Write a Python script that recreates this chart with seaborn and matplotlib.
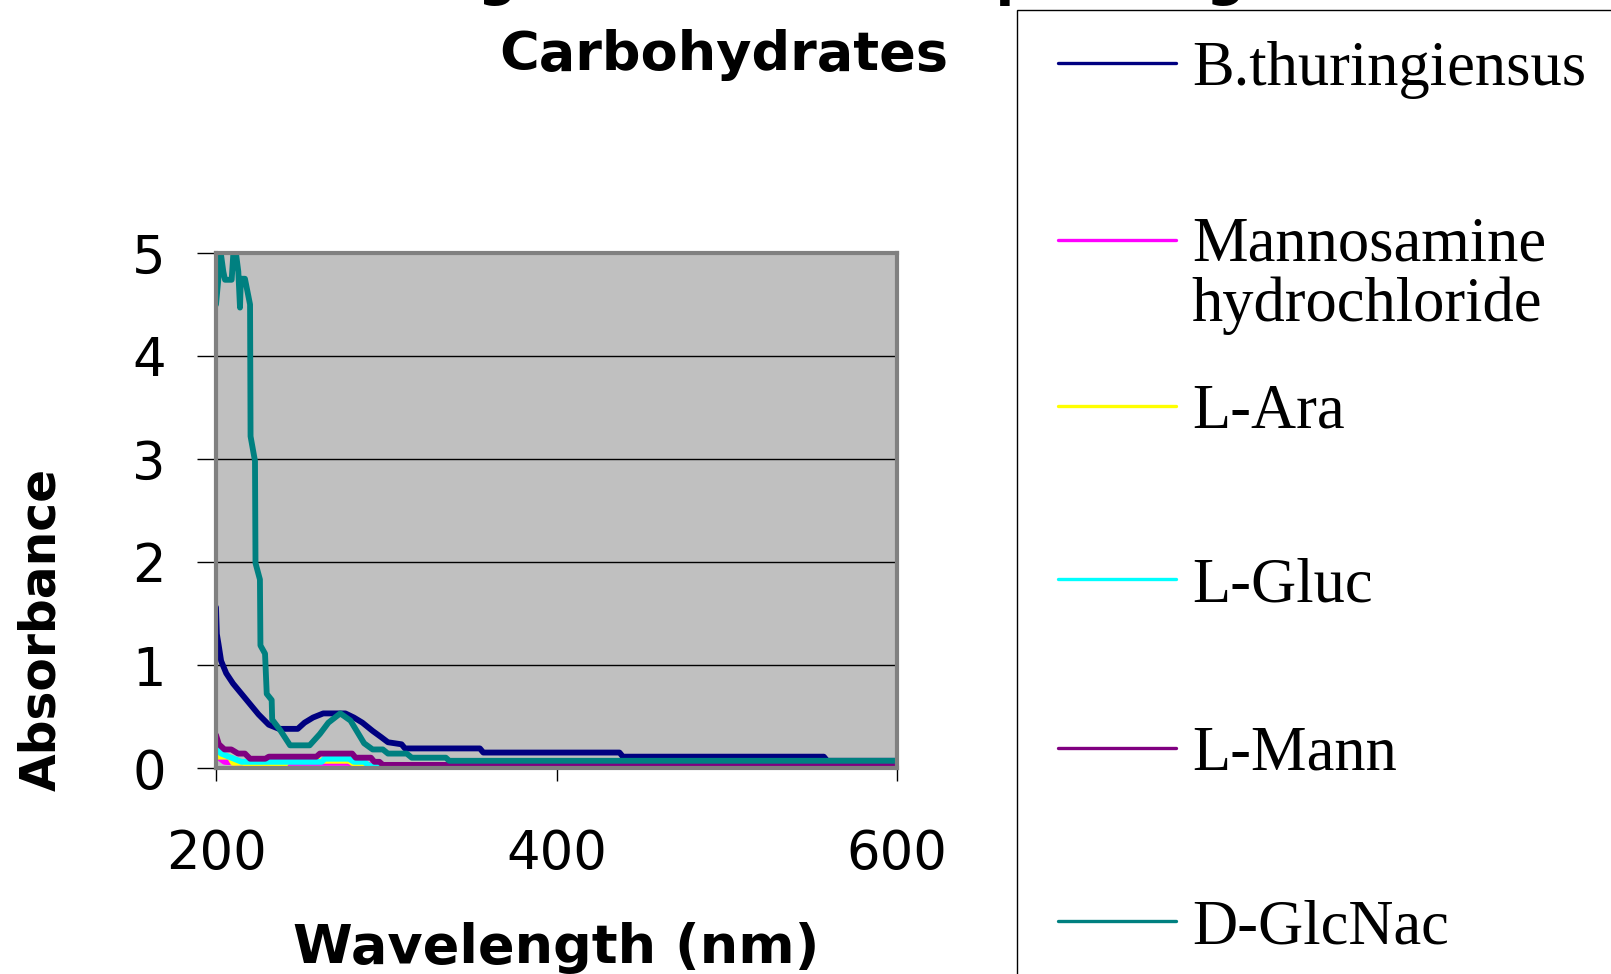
import numpy as np
import pandas as pd
import matplotlib
matplotlib.use("Agg")
import matplotlib.pyplot as plt
import seaborn as sns
from matplotlib.lines import Line2D
from matplotlib.patches import Rectangle
from matplotlib.legend_handler import HandlerLine2D

# ---------------- data ----------------
series_names = ["B.thuringiensus", "Mannosamine\nhydrochloride", "L-Ara", "L-Gluc", "L-Mann", "D-GlcNac"]
series_colors = ["#000080", "#FF00FF", "#FFFF00", "#00FFFF", "#800080", "#008080"]

bt_wl = [200, 200.5, 201.5, 203, 206, 210, 216, 220, 225, 231, 237, 248, 252, 257, 263, 276, 281, 286,
         292, 297, 301, 309, 311, 355, 357, 437, 439, 557, 559, 600]
bt_abs = [1.56, 1.30, 1.20, 1.04, 0.92, 0.82, 0.70, 0.62, 0.52, 0.42, 0.38, 0.38, 0.44, 0.49, 0.53, 0.53,
          0.49, 0.44, 0.36, 0.30, 0.25, 0.23, 0.19, 0.19, 0.15, 0.15, 0.11, 0.11, 0.07, 0.07]

man_wl = [200, 205, 222, 224, 240, 242, 278, 281, 290, 292, 600]
man_abs = [0.12, 0.06, 0.04, 0.01, 0.01, 0.05, 0.05, 0.03, 0.03, 0.01, 0.01]

ara_wl = [200, 201, 208, 210, 216, 220, 240, 242, 278, 281, 290, 600]
ara_abs = [0.16, 0.11, 0.11, 0.05, 0.05, 0.02, 0.02, 0.07, 0.07, 0.04, 0.02, 0.02]

gluc_wl = [200, 203, 209, 215, 229, 262, 264, 278, 281, 287, 290, 600]
gluc_abs = [0.19, 0.14, 0.10, 0.06, 0.06, 0.06, 0.09, 0.09, 0.06, 0.06, 0.02, 0.02]

mann_wl = [200, 201.7, 205, 209, 213, 217, 220, 229, 231, 259, 261, 280, 282, 291, 293, 296, 298, 600]
mann_abs = [0.32, 0.23, 0.18, 0.18, 0.14, 0.14, 0.09, 0.09, 0.11, 0.11, 0.14, 0.14, 0.10, 0.10, 0.06,
            0.06, 0.03, 0.03]

glc_wl = [200, 202.8, 204.3, 205.3, 209.2, 210.2, 211.7, 213.1, 214.1, 214.6, 217, 220, 220.3, 222.9,
          223.2, 225.8, 226.1, 228.8, 229.8, 232.7, 233, 237.6, 243.5, 255, 261, 266, 273, 279, 283, 287,
          292, 298, 301, 312, 315, 335, 337, 600]
glc_abs = [4.50, 5.00, 4.82, 4.74, 4.74, 5.00, 5.00, 4.82, 4.47, 4.75, 4.75, 4.50, 3.22, 2.98, 1.99, 1.83,
           1.19, 1.11, 0.72, 0.66, 0.47, 0.37, 0.22, 0.22, 0.33, 0.44, 0.53, 0.46, 0.35, 0.24, 0.18, 0.18,
           0.14, 0.14, 0.10, 0.10, 0.07, 0.07]

x_ticks = [200, 400, 600]
y_ticks = [0, 1, 2, 3, 4, 5]

title_line1 = "UV Changes of Bacteria upon Sugar"
title_line2 = "Carbohydrates"
x_label = "Wavelength (nm)"
y_label = "Absorbance"

# ---------------- build long-form table ----------------
wls = [bt_wl, man_wl, ara_wl, gluc_wl, mann_wl, glc_wl]
abss = [bt_abs, man_abs, ara_abs, gluc_abs, mann_abs, glc_abs]
frames = []
for name, w, a in zip(series_names, wls, abss):
    frames.append(pd.DataFrame({"wl": w, "abs": a, "series": name}))
df = pd.concat(frames, ignore_index=True)

# ---------------- figure ----------------
sns.set_theme(style="white")
plt.rcParams["font.family"] = ["DejaVu Sans"]
plt.rcParams["text.color"] = "black"
plt.rcParams["axes.labelcolor"] = "black"
plt.rcParams["xtick.color"] = "black"
plt.rcParams["ytick.color"] = "black"


class RaisedLine(HandlerLine2D):
    """Legend line handler that lifts the key line to the first text row."""
    def __init__(self, dy=0.0, **kw):
        super().__init__(**kw)
        self.dy = dy

    def create_artists(self, legend, orig_handle, xdescent, ydescent, width, height, fontsize, trans):
        arts = super().create_artists(legend, orig_handle, xdescent, ydescent, width, height,
                                      fontsize, trans)
        for a in arts:
            a.set_ydata(np.asarray(a.get_ydata(), float) + self.dy)
        return arts


W, H = 1611, 974
fig = plt.figure(figsize=(W / 100, H / 100), dpi=100)
fig.patch.set_facecolor("white")
ax = fig.add_axes([216 / W, 1 - 768 / H, (897 - 216) / W, (768 - 253) / H])

sns.lineplot(data=df, x="wl", y="abs", hue="series", hue_order=series_names,
             palette=dict(zip(series_names, series_colors)), sort=False, estimator=None,
             linewidth=4.2, ax=ax, legend=False)

ax.set_facecolor("#C0C0C0")
ax.set_xlim(200, 600)
ax.set_ylim(0, 5)
ax.set_xticks(x_ticks)
ax.set_yticks(y_ticks)
ax.set_axisbelow(True)
ax.yaxis.grid(True, color="black", lw=1)
ax.xaxis.grid(False)
for s in ax.spines.values():
    s.set_color("#808080")
    s.set_linewidth(3)
    s.set_visible(True)

ax.tick_params(axis="y", left=True, direction="out", length=14, width=1, color="black",
               labelsize=38, pad=22, labelcolor="black")
ax.tick_params(axis="x", bottom=True, direction="out", length=9, width=1, color="black",
               labelsize=38, pad=34, labelcolor="black")

ax.set_xlabel(x_label, fontsize=39, fontweight="bold", color="black")
ax.xaxis.set_label_coords(0.5, -0.299)
ax.set_ylabel(y_label, fontsize=35, fontweight="bold", color="black")
ax.yaxis.label.set_va("center")
ax.yaxis.set_label_coords(-0.257, 0.27)

# title (first line is cut off at the top edge, as in the reference)
fig.text(220 / W, 1 + 5 / H, title_line1, ha="left", va="baseline", fontsize=39,
         fontweight="bold", color="black")
fig.text(724 / W, 1 - 70 / H, title_line2, ha="center", va="baseline", fontsize=39,
         fontweight="bold", color="black")

# legend frame
fig.add_artist(Rectangle((1017 / W, -0.05), 0.5, 1 - 10 / H + 0.05, transform=fig.transFigure,
                         fill=False, edgecolor="black", lw=1))

entry_y = [70, 276, 413, 586, 755, 928]
for name, col, yy in zip(series_names, series_colors, entry_y):
    h = Line2D([], [], color=col, lw=2.4)
    hm = {h: RaisedLine(dy=26.0)} if "\n" in name else None
    leg = fig.legend(handles=[h], labels=[name], loc="center left",
                     bbox_to_anchor=(1058 / W, 1 - yy / H), frameon=False,
                     prop={"family": "Liberation Serif", "size": 45},
                     handlelength=1.88, handletextpad=0.26, borderpad=0, borderaxespad=0,
                     handler_map=hm, labelcolor="black")
    for t in leg.get_texts():
        t.set_linespacing(1.05)

fig.savefig("out.png", dpi=100)
